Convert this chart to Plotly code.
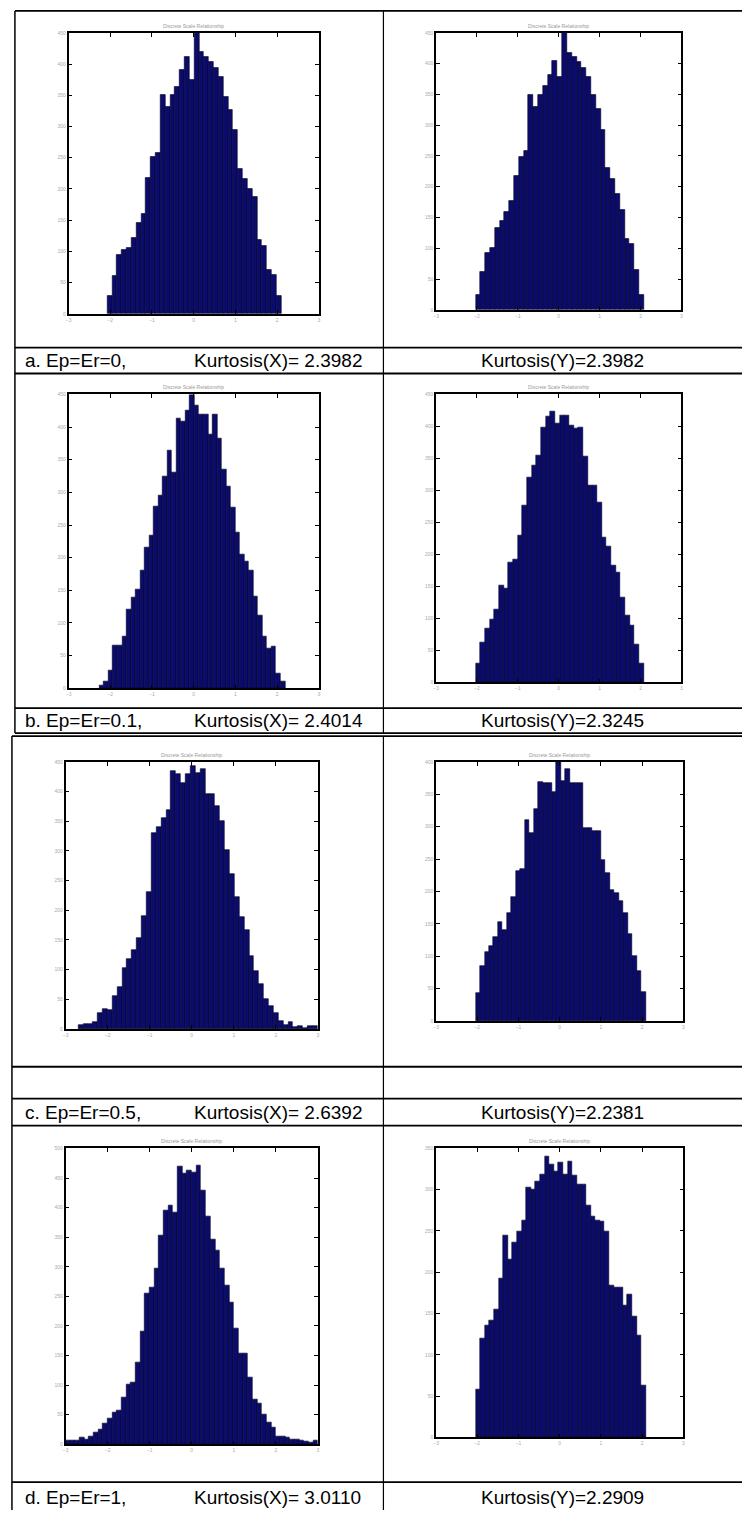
import numpy as np
import plotly.graph_objects as go

W, H = 744, 1513

# ---------------- data (counts) ----------------
a_x_counts = [28, 60, 94, 103, 106, 121, 145, 160, 217, 251, 258, 351, 331, 351, 364, 390, 411, 375,
              450, 419, 412, 404, 394, 379, 348, 326, 294, 232, 216, 200, 187, 119, 109, 71, 63, 28]
a_y_counts = [25, 61, 92, 101, 133, 144, 159, 177, 217, 249, 259, 349, 330, 349, 364, 382, 404, 378,
              450, 418, 411, 403, 393, 378, 349, 327, 292, 230, 212, 188, 162, 115, 107, 65, 25]
b_x_counts = [4, 11, 27, 65, 65, 80, 120, 139, 151, 181, 216, 234, 278, 295, 324, 364, 330, 414, 408,
              425, 450, 433, 419, 420, 388, 420, 382, 335, 309, 277, 239, 205, 194, 181, 140, 112, 80,
              61, 64, 23, 10]
b_y_counts = [29, 63, 84, 99, 114, 152, 146, 188, 192, 229, 276, 320, 339, 355, 398, 416, 424, 405,
              417, 417, 402, 397, 399, 353, 308, 308, 281, 226, 213, 182, 171, 133, 104, 89, 59, 29]
c_x_counts = [6, 8, 8, 11, 27, 34, 32, 55, 70, 102, 118, 133, 153, 191, 231, 330, 341, 355, 369, 434,
              430, 414, 430, 444, 431, 438, 396, 396, 376, 351, 301, 262, 222, 188, 166, 123, 98, 75,
              50, 38, 27, 13, 7, 12, 3, 5, 2, 5, 5]
c_y_counts = [43, 85, 107, 116, 129, 153, 141, 167, 191, 231, 234, 310, 290, 327, 369, 368, 368, 353,
              400, 370, 389, 368, 368, 367, 298, 298, 293, 293, 249, 229, 203, 198, 185, 167, 134, 100,
              77, 44]
d_x_counts = [6, 6, 6, 11, 9, 14, 20, 25, 35, 44, 54, 57, 79, 101, 104, 139, 190, 255, 265, 297, 353,
              396, 404, 392, 470, 457, 462, 460, 472, 429, 385, 347, 328, 297, 268, 240, 195, 154, 154,
              113, 76, 69, 50, 37, 28, 14, 13, 11, 9, 9, 6, 5, 3, 6]
d_y_counts = [58, 120, 135, 142, 155, 193, 245, 215, 236, 250, 263, 303, 300, 310, 319, 340, 331, 322,
              333, 319, 334, 317, 306, 306, 281, 268, 263, 261, 250, 184, 182, 182, 160, 173, 146, 124, 63]

# bin span of each histogram (axis units)
a_x_span = (-2.07, 2.10)
a_y_span = (-2.03, 2.08)
b_x_span = (-2.26, 2.19)
b_y_span = (-2.03, 2.08)
c_x_span = (-2.70, 2.99)
c_y_span = (-2.04, 2.09)
d_x_span = (-3.00, 3.00)
d_y_span = (-2.04, 2.09)

y_max = [450, 450, 450, 450, 450, 400, 500, 350]
x_ticks = [-3, -2, -1, 0, 1, 2, 3]

captions_left = ["a. Ep=Er=0,", "b. Ep=Er=0.1,", "c. Ep=Er=0.5,", "d. Ep=Er=1,"]
kurt_x = ["Kurtosis(X)= 2.3982", "Kurtosis(X)= 2.4014", "Kurtosis(X)= 2.6392", "Kurtosis(X)= 3.0110"]
kurt_y = ["Kurtosis(Y)=2.3982", "Kurtosis(Y)=2.3245", "Kurtosis(Y)=2.2381", "Kurtosis(Y)=2.2909"]
panel_title = "Discrete Scale Relationship"

series = [(a_x_counts, a_x_span), (a_y_counts, a_y_span),
          (b_x_counts, b_x_span), (b_y_counts, b_y_span),
          (c_x_counts, c_x_span), (c_y_counts, c_y_span),
          (d_x_counts, d_x_span), (d_y_counts, d_y_span)]

# ---------------- layout geometry (pixels) ----------------
boxes = [(66, 318, 30, 312), (436, 683, 30, 308),
         (66, 318, 393, 688), (436, 683, 393, 682),
         (63, 317, 762, 1030), (436, 685, 762, 1022),
         (63, 317, 1150, 1447), (436, 685, 1150, 1440)]
caption_y = [359, 720, 1114, 1500]

def px(x):
    return x / W

def py(y):
    return 1 - y / H

fig = go.Figure()
layout_axes = {}
annotations = []
BAR = "#0b0b6b"
for i, ((counts, span), box, ym) in enumerate(zip(series, boxes, y_max)):
    n = len(counts)
    edges = np.linspace(span[0], span[1], n + 1)
    centers = (edges[:-1] + edges[1:]) / 2
    width = edges[1] - edges[0]
    k = "" if i == 0 else str(i + 1)
    fig.add_trace(go.Bar(x=centers, y=counts, width=width, xaxis="x" + k, yaxis="y" + k,
                         marker=dict(color=BAR, line=dict(color="#000022", width=0.6)),
                         showlegend=False))
    x0, x1, y0, y1 = box
    common = dict(showline=True, linecolor="black", linewidth=1.5, mirror="allticks",
                  ticks="inside", ticklen=4, tickcolor="black", showgrid=False, zeroline=False,
                  tickfont=dict(size=5, color="#aaaaaa", family="Liberation Sans"))
    layout_axes["xaxis" + k] = dict(domain=[px(x0), px(x1)], anchor="y" + k, range=[-3, 3],
                                    tickvals=x_ticks, **common)
    layout_axes["yaxis" + k] = dict(domain=[py(y1), py(y0)], anchor="x" + k, range=[0, ym],
                                    tickvals=list(range(0, ym + 1, 50)), **common)
    annotations.append(dict(x=px((x0 + x1) / 2), y=py(y0 - 7), xref="paper", yref="paper",
                            xanchor="center", yanchor="middle",
                            text=panel_title, showarrow=False,
                            font=dict(size=5, color="#999999", family="Liberation Sans")))

CAP_FONT = dict(size=19, color="black", family="Liberation Sans, Arial, sans-serif")
for j in range(4):
    yy = py(caption_y[j])
    annotations.append(dict(x=px(20), y=yy, xref="paper", yref="paper", xanchor="left",
                            yanchor="middle", text=captions_left[j], showarrow=False, font=CAP_FONT))
    annotations.append(dict(x=px(190), y=yy, xref="paper", yref="paper", xanchor="left",
                            yanchor="middle", text=kurt_x[j], showarrow=False, font=CAP_FONT))
    annotations.append(dict(x=px(563), y=yy, xref="paper", yref="paper", xanchor="center",
                            yanchor="middle", text=kurt_y[j], showarrow=False, font=CAP_FONT))

# table rules
shapes = []
def hline(y, xa, xb, w=1.8):
    shapes.append(dict(type="line", xref="paper", yref="paper", x0=px(xa), x1=px(xb),
                       y0=py(y), y1=py(y), line=dict(color="black", width=w)))
def vline(x, ya, yb, w=1.5):
    shapes.append(dict(type="line", xref="paper", yref="paper", x0=px(x), x1=px(x),
                       y0=py(ya), y1=py(yb), line=dict(color="black", width=w)))

for y in [8, 346, 372, 708, 733]:
    hline(y, 12, 744)
vline(12, 8, 733)
vline(383, 8, 733, 1.2)
for y in [736, 1068, 1100, 1127, 1485]:
    hline(y, 9, 744)
vline(9, 736, 1513)
vline(383, 736, 1513, 1.2)

fig.update_layout(width=W, height=H, margin=dict(l=0, r=0, t=0, b=0),
                  paper_bgcolor="white", plot_bgcolor="white", bargap=0,
                  annotations=annotations, shapes=shapes, **layout_axes)

fig.write_html("out.html")
